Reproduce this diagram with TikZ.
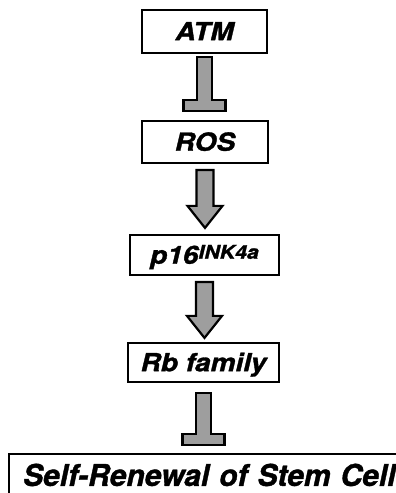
\documentclass[tikz,border=0pt]{standalone}
\usepackage{fontspec}
\usepackage{graphicx}
\setmainfont{TeX Gyre Heros}[BoldItalicFeatures={FakeBold=1.2}]
\usetikzlibrary{calc}

% wide bold-oblique lettering used in the pathway boxes
\newcommand\wide[1]{\scalebox{1.12}[1]{#1}}

\tikzset{
  pathbox/.style={draw=black, line width=2.2pt, fill=white, inner sep=0pt,
    font={\bfseries\itshape\fontsize{25pt}{25pt}\selectfont},
    text height=17.5pt, text depth=0pt},
  conn/.style={draw=black, line width=2.2pt, fill=black!38, line join=miter},
}

% block arrow: source, target, gap below source, gap above target
\newcommand\blockarrow[4]{%
  \path[conn] let \p1=($(#1.south)+(0,-#3)$), \p2=($(#2.north)+(0,#4)$) in
    (\x1-8.5pt,\y1) -- (\x1+8.5pt,\y1) -- (\x1+8.5pt,\y2+22pt) -- (\x1+17.5pt,\y2+22pt)
    -- (\x1,\y2) -- (\x1-17.5pt,\y2+22pt) -- (\x1-8.5pt,\y2+22pt) -- cycle;}

% inhibition bar: source, target, gap below source, gap above target
\newcommand\tbar[4]{%
  \path[conn] let \p1=($(#1.south)+(0,-#3)$), \p2=($(#2.north)+(0,#4)$) in
    (\x1-7.5pt,\y1) -- (\x1+7.5pt,\y1) -- (\x1+7.5pt,\y2+11pt) -- (\x1+21pt,\y2+11pt)
    -- (\x1+21pt,\y2) -- (\x1-21pt,\y2) -- (\x1-21pt,\y2+11pt) -- (\x1-7.5pt,\y2+11pt) -- cycle;}

\begin{document}
\begin{tikzpicture}[x=1pt,y=1pt]
  \useasboundingbox (0,0) rectangle (396,493);
  \clip (0,0) rectangle (396,493);

  \node[pathbox, minimum width=125pt, minimum height=43pt] (atm) at (204.5,461.5) {\wide{ATM}};
  \node[pathbox, minimum width=126pt, minimum height=42pt] (ros) at (205,351) {\wide{ROS}};
  \node[pathbox, minimum width=149pt, minimum height=40pt] (p16) at (204.5,238)
    {\wide{p16\raisebox{5pt}{\fontsize{19pt}{19pt}\selectfont INK4a}}};
  \node[pathbox, minimum width=151pt, minimum height=39pt] (rb) at (203.5,130.5) {\wide{Rb family}};
  \node[pathbox, anchor=north west, minimum height=60pt, inner xsep=14pt,
        text width=392pt, align=left,
        font={\bfseries\itshape\fontsize{30pt}{30pt}\selectfont},
        text height=21.6pt, text depth=18pt] (self) at (8,40)
    {Self-Renewal of Stem Cell};

  \tbar{atm}{ros}{3pt}{9pt}
  \blockarrow{ros}{p16}{6pt}{6pt}
  \blockarrow{p16}{rb}{6pt}{4pt}
  \tbar{rb}{self}{10pt}{8pt}
\end{tikzpicture}
\end{document}
